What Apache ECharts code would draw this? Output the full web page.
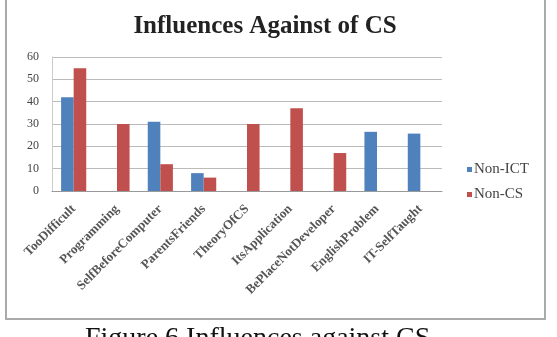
<!DOCTYPE html>
<html>
<head>
<meta charset="utf-8">
<style>html,body{margin:0;padding:0;background:#fff;}#c{width:557px;height:337px;}</style>
<script src="https://cdn.jsdelivr.net/npm/echarts@6/dist/echarts.min.js"></script>
</head>
<body>
<div id="c"></div>
<script>
var categories = ["TooDifficult","Programming","SelfBeforeComputer","ParentsFriends","TheoryOfCS","ItsApplication","BePlaceNotDeveloper","EnglishProblem","IT-SelfTaught"];
var nonICT = [42, 0, 31, 8, 0, 0, 0, 26.5, 25.7];
var nonCS = [55, 30, 12, 6, 30, 37, 17, 0, 0];
var yTicks = [0, 10, 20, 30, 40, 50, 60];

var chart = echarts.init(document.getElementById('c'));
var serif = '"Liberation Serif", "DejaVu Serif", serif';
chart.setOption({
  animation: false,
  backgroundColor: '#fff',
  title: {
    text: 'Influences Against of CS',
    left: 260, top: 9, textAlign: 'center',
    textStyle: { fontFamily: serif, fontWeight: 'bold', fontSize: 25, color: '#222' }
  },
  legend: {
    orient: 'vertical', left: 462, top: 157, itemWidth: 5, itemHeight: 5, itemGap: 10,
    icon: 'rect',
    textStyle: { fontFamily: serif, fontSize: 15, color: '#444', padding: [0,0,0,-3] },
    data: ['Non-ICT', 'Non-CS']
  },
  grid: { left: 52, right: 115, top: 57, bottom: 146 },
  xAxis: {
    type: 'category', data: categories,
    axisLine: { lineStyle: { color: '#999' } },
    axisTick: { show: false },
    axisLabel: { rotate: 45, interval: 0, fontFamily: serif, fontSize: 13, fontWeight: 'bold', color: '#555', margin: 16 }
  },
  yAxis: {
    type: 'value', min: yTicks[0], max: yTicks[yTicks.length-1], interval: 10,
    axisLine: { show: true, lineStyle: { color: '#ccc' } },
    axisTick: { show: false },
    splitLine: { lineStyle: { color: '#bbb' } },
    axisLabel: { fontFamily: serif, fontSize: 12, color: '#444', margin: 13 }
  },
  series: [
    { name: 'Non-ICT', type: 'bar', data: nonICT, itemStyle: { color: '#4F81BD' }, barGap: '0%', barCategoryGap: '42%' },
    { name: 'Non-CS', type: 'bar', data: nonCS, itemStyle: { color: '#C0504D' }, barGap: '0%', barCategoryGap: '42%' }
  ],
  graphic: [
    { type: 'rect', shape: { x: 6, y: -4, width: 539, height: 323 }, style: { fill: 'none', stroke: '#aaa', lineWidth: 2 }, z: 100 },
    { type: 'text', left: 85, top: 325, style: { text: 'Figure 6 Influences against CS', fontFamily: serif, fontSize: 28, fill: '#111' } }
  ]
});
</script>
</body>
</html>
